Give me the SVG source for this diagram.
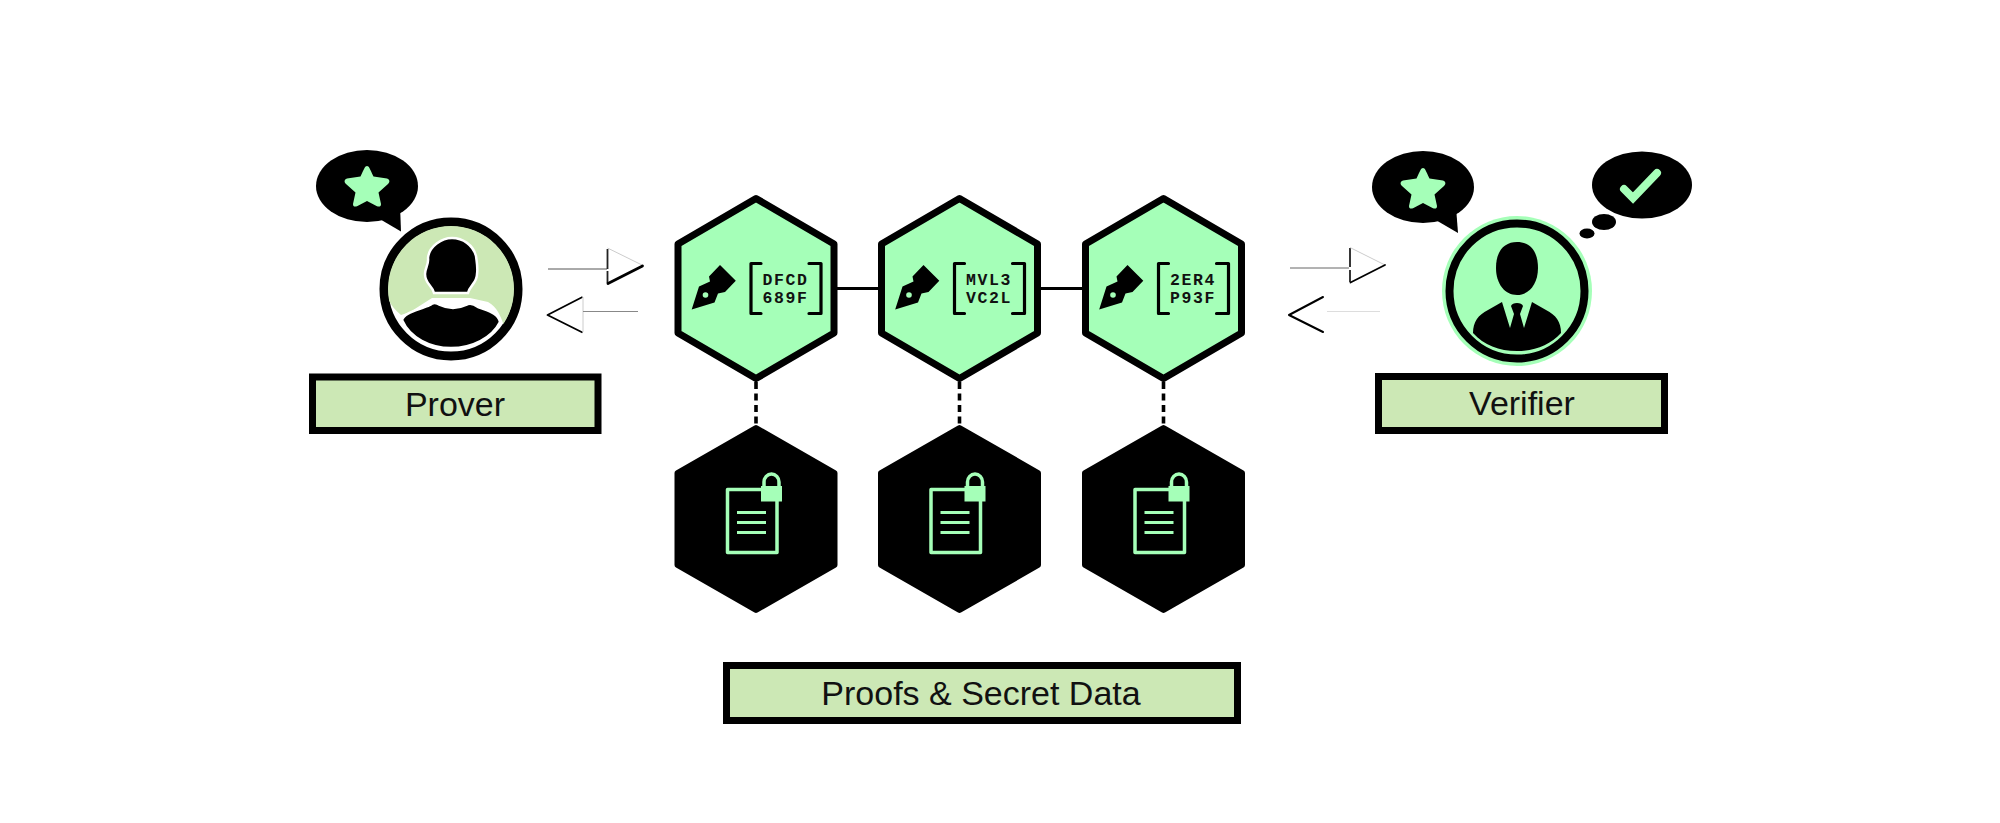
<svg xmlns="http://www.w3.org/2000/svg" width="2000" height="823" viewBox="0 0 2000 823">
<style>
.hex{fill:#a5ffb8;stroke:#000;stroke-width:7;stroke-linejoin:round}
.hexb{fill:#000;stroke:#000;stroke-width:6;stroke-linejoin:round}
.lbl{fill:#cce8b5;stroke:#000;stroke-width:7}
.t{font-family:"Liberation Sans",Arial,sans-serif;font-size:34px;fill:#111;text-anchor:middle}
.code{font-family:"Liberation Mono","Courier New",monospace;font-size:16.500px;font-weight:700;letter-spacing:1.600px;fill:#111;text-anchor:middle}
.br{fill:none;stroke:#000;stroke-width:3.200;stroke-linecap:round;stroke-linejoin:round}
.gl{fill:none;stroke:#a5ffb8;stroke-width:3.500;stroke-linejoin:round}
.k{fill:#000}
.g{fill:#a5ffb8}
.conn{stroke:#000;stroke-width:3.200;fill:none}
.dash{stroke:#000;stroke-width:3.600;stroke-dasharray:7 4.500;fill:none}
</style>
<defs>
<clipPath id="proverClip"><circle cx="451" cy="289" r="63"/></clipPath>
<polygon id="hexG" points="756,198.500 834,244 834,333 756,378.500 678,333 678,244"/>
<polygon id="hexB" points="756,428 834.500,473 834.500,565 756,610 677.500,565 677.500,473"/>
<g id="pen">
<path d="M691.700,309.500 L699,286.500 L710,281.500 L709,276.500 L720,265 L735.800,280.800 L725,292 L718,293.500 L714.500,302.500 Z" class="k"/>
<circle cx="705.500" cy="295" r="2.800" class="g"/>
</g>
<path id="brackets" class="br" d="M761,263.500 H751 V313.500 H761 M809,263.500 H821 V313.500 H809"/>
<g id="doc">
<rect class="gl" x="727.500" y="489.500" width="49.500" height="63"/>
<path d="M737,512.500 H766 M737,522.500 H766 M737,532.500 H766" stroke="#a5ffb8" stroke-width="3" fill="none"/>
<rect class="g" x="761" y="486" width="21" height="15.500"/>
<path class="gl" d="M764,487 V482 A7.500,8 0 0 1 779,482 V487"/>
</g>
<path id="star" d="M0,-19 C2,-19 3,-16 6.500,-8.500 L20,-6.500 C23,-5.500 23,-3 21,-1 L11.500,7.500 L14,19 C14,22 12,22 9.500,21 L0,16 L-9.500,21 C-12,22 -14,22 -14,19 L-11.500,7.500 L-21,-1 C-23,-3 -23,-5.500 -20,-6.500 L-6.500,-8.500 C-3,-16 -2,-19 0,-19 Z" fill="#a5ffb8"/>
</defs>

<g id="connectors">
<path class="conn" d="M837,288.500 H878 M1041,288.500 H1082"/>
<path class="dash" d="M756,382 V425 M959.500,382 V425 M1163.500,382 V425"/>
<g id="arrows-prover">
<path d="M548,269 H607" stroke="#555" stroke-width="1"/>
<path d="M607.500,269 V249 M607.500,271 V283" stroke="#222" stroke-width="1.800" fill="none"/>
<path d="M607.500,248 L643,265.500" stroke="#ccc" stroke-width="1" fill="none"/>
<path d="M608,283.500 L642.500,266" stroke="#000" stroke-width="2.800" stroke-linecap="round" fill="none"/>
<path d="M582.500,297 L547.500,315 L582.500,332.500" stroke="#000" stroke-width="1.800" stroke-linejoin="round" fill="none"/>
<path d="M583,297 V332" stroke="#ccc" stroke-width="1" fill="none"/>
<path d="M583,311.500 H638" stroke="#888" stroke-width="1"/>
</g>
<g id="arrows-verifier">
<path d="M1290,268 H1349" stroke="#666" stroke-width="1"/>
<path d="M1350,248 V267 M1350,270 V282" stroke="#222" stroke-width="1.800" fill="none"/>
<path d="M1350,247.500 L1385,265" stroke="#ccc" stroke-width="1" fill="none"/>
<path d="M1350.500,282.500 L1385,265" stroke="#000" stroke-width="1.800" stroke-linecap="round" fill="none"/>
<path d="M1323,297 L1289,315 L1323,332" stroke="#000" stroke-width="2" stroke-linecap="round" stroke-linejoin="round" fill="none"/>
<path d="M1327,311.500 H1380" stroke="#ddd" stroke-width="1"/>
</g>
</g>

<g id="proof1">
<use href="#hexG" class="hex"/><use href="#pen"/><use href="#brackets"/>
<text class="code" x="785.500" y="285">DFCD</text><text class="code" x="785.500" y="303">689F</text>
</g>
<g id="proof2" transform="translate(203.500 0)">
<use href="#hexG" class="hex"/><use href="#pen"/><use href="#brackets"/>
<text class="code" x="785.500" y="285">MVL3</text><text class="code" x="785.500" y="303">VC2L</text>
</g>
<g id="proof3" transform="translate(407.500 0)">
<use href="#hexG" class="hex"/><use href="#pen"/><use href="#brackets"/>
<text class="code" x="785.500" y="285">2ER4</text><text class="code" x="785.500" y="303">P93F</text>
</g>
<g id="secret1"><use href="#hexB" class="hexb"/><use href="#doc"/></g>
<g id="secret2" transform="translate(203.500 0)"><use href="#hexB" class="hexb"/><use href="#doc"/></g>
<g id="secret3" transform="translate(407.500 0)"><use href="#hexB" class="hexb"/><use href="#doc"/></g>

<g id="prover">
<circle cx="451" cy="289" r="67" fill="#fff" stroke="#000" stroke-width="9"/>
<path clip-path="url(#proverClip)" fill="#cce8b5" d="M386,290 C388,260 405,236 422,226 C440,218 470,218 484,222 C500,230 512,246 518,260 C522,276 522,300 512,330 L505,328 C500,315 498,308 488,302 L470,298 L432,298 L410,312 L401,315 C392,308 386,298 386,290 Z"/>
<path d="M402,320 C404,312 420,310 430,305 C433,302 436,302 440,305 C448,309 458,309 466,305 C470,302 474,304 478,307 C488,311 498,313 500,322 C492,338 472,348 451,348 C430,348 410,338 402,320 Z" fill="#000" stroke="#fff" stroke-width="2.500"/>
<path d="M434,293 C432,285 425,284 425,274 C425,268 429,264 428,258 C429,246 442,238 452,238 C463,238 473,245 476,256 C477,264 478,268 477,274 C477,283 470,285 468,293 Z" fill="#000" stroke="#fff" stroke-width="2.500"/>
<g id="prover-bubble">
<ellipse cx="367" cy="186" rx="51" ry="36" fill="#000"/>
<path d="M378,218 L401,231.500 L400,205 Z" fill="#000"/>
<use href="#star" x="367" y="185"/>
</g>
<rect class="lbl" x="312.500" y="377" width="285.500" height="53.500"/>
<text class="t" x="455" y="416">Prover</text>
</g>

<g id="verifier">
<circle cx="1517" cy="291" r="75" fill="#a5ffb8"/>
<circle cx="1517" cy="291" r="67.500" fill="#a5ffb8" stroke="#000" stroke-width="8"/>
<path d="M1517,242 C1505,242 1496,250 1496,268 C1496,284 1505,295 1517,295 C1529,295 1538,284 1538,268 C1538,250 1529,242 1517,242 Z" fill="#000"/>
<path fill="#000" d="M1473,333 C1473,322 1478,315 1488,310 L1502,302 L1510,328 L1514,314 L1511,306 C1512,302 1522,302 1523,306 L1520,314 L1524,328 L1532,302 L1546,310 C1556,315 1561,322 1561,333 C1550,345 1535,351 1517,351 C1499,351 1484,345 1473,333 Z"/>
<g id="verifier-speech">
<ellipse cx="1423" cy="187" rx="51" ry="36" fill="#000"/>
<path d="M1434,219 L1458,233 L1456,207 Z" fill="#000"/>
<use href="#star" x="1423" y="187"/>
</g>
<g id="verifier-thought">
<ellipse cx="1642" cy="185" rx="50" ry="33.500" fill="#000"/>
<ellipse cx="1604" cy="222" rx="12" ry="8" fill="#000"/>
<ellipse cx="1587" cy="233.500" rx="7.500" ry="5" fill="#000"/>
<path d="M1624,189 L1633,198 L1657,173" fill="none" stroke="#a5ffb8" stroke-width="8" stroke-linecap="round" stroke-linejoin="miter"/>
</g>
<rect class="lbl" x="1378.500" y="376.500" width="286" height="54"/>
<text class="t" x="1522" y="415">Verifier</text>
</g>

<g id="proofs-label">
<rect class="lbl" x="726.500" y="665.500" width="511" height="55"/>
<text class="t" x="981" y="705">Proofs &amp; Secret Data</text>
</g>
</svg>
